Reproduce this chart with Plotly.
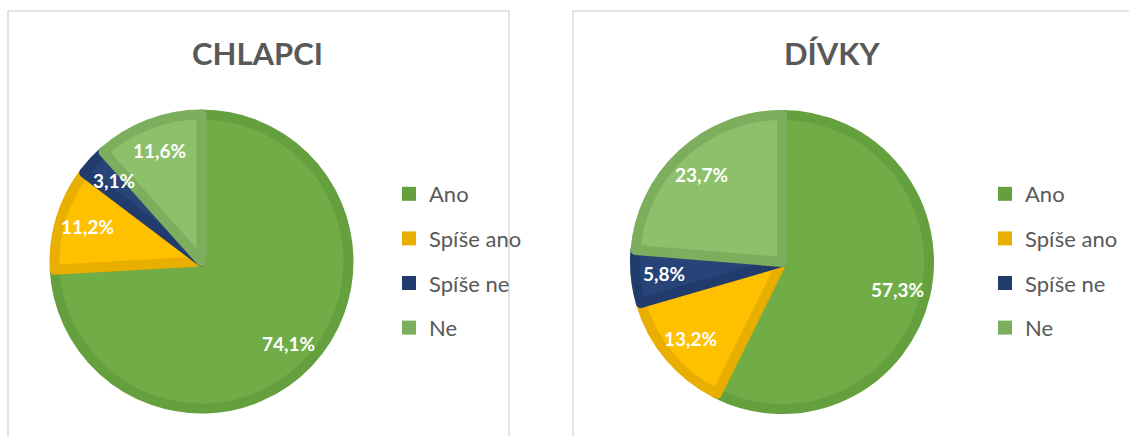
import math
import plotly.graph_objects as go

# ---- data ----
categories = ["Ano", "Spíše ano", "Spíše ne", "Ne"]
chlapci = [74.1, 11.2, 3.1, 11.6]
divky = [57.3, 13.2, 5.8, 23.7]
titles = ["CHLAPCI", "DÍVKY"]

# ---- styles ----
fill_colors = ["#70AD47", "#FFC000", "#264478", "#8DC06B"]
border_colors = ["#65A03F", "#E8AE00", "#213C6C", "#7DAE5E"]
TEXT_GREY = "#595959"
FONT = "Lato"

W, H = 1129, 436
line_w = 10
# pie boxes in pixels (fill radius = visual radius - line_w/2): (x_left, x_right, y_top, y_bottom)
pie_boxes = [(54.5, 348.5, 114.5, 408.5), (635, 929, 115, 409)]
title_x_px = [257, 832]
title_y_px = 53
legend_x_px = [389, 985]
legend_y_px = 173
label_frac = 0.81

fig = go.Figure()
annotations = []
series = [chlapci, divky]
legend_ids = ["legend", "legend2"]

for k, vals in enumerate(series):
    x0, x1, yt, yb = pie_boxes[k]
    fig.add_trace(go.Pie(
        labels=categories, values=vals, sort=False, direction="clockwise", rotation=0,
        textinfo="none", hoverinfo="label+percent", showlegend=False,
        marker=dict(colors=fill_colors, line=dict(color=border_colors, width=line_w)),
        domain=dict(x=[x0 / W, x1 / W], y=[1 - yb / H, 1 - yt / H]),
    ))
    # labels placed at the middle angle of each slice
    cx, cy = (x0 + x1) / 2, (yt + yb) / 2
    r = (x1 - x0) / 2 * label_frac
    total = sum(vals)
    cum = 0.0
    for v in vals:
        mid = (cum + v / 2) / total * 2 * math.pi
        cum += v
        px = cx + r * math.sin(mid)
        py = cy - r * math.cos(mid)
        annotations.append(dict(
            x=px / W, y=1 - py / H, xref="paper", yref="paper", showarrow=False,
            text=f"{v:.1f}".replace(".", ",") + "%",
            font=dict(family=FONT, size=19, color="white", weight="bold"),
            xanchor="center", yanchor="middle"))
    # title
    annotations.append(dict(
        x=title_x_px[k] / W, y=1 - title_y_px / H, xref="paper", yref="paper",
        showarrow=False, text=titles[k], xanchor="center", yanchor="middle",
        font=dict(family=FONT, size=31, color=TEXT_GREY, weight="bold")))
    # legend entries
    for i, cat in enumerate(categories):
        fig.add_trace(go.Scatter(
            x=[None], y=[None], mode="markers", name=cat,
            marker=dict(symbol="square", size=14, color=border_colors[i]),
            legend=legend_ids[k], legendgroup=f"g{k}_{i}", showlegend=True,
            hoverinfo="skip"))

legend_common = dict(
    xanchor="left", yanchor="top", font=dict(family=FONT, size=22, color=TEXT_GREY),
    traceorder="grouped", tracegroupgap=13, bgcolor="rgba(0,0,0,0)", borderwidth=0,
    itemclick=False, itemdoubleclick=False)

shapes = [
    dict(type="rect", xref="paper", yref="paper", x0=8 / W, x1=509 / W,
         y0=1 - 11 / H, y1=-0.1, line=dict(color="#D9D9D9", width=1.5)),
    dict(type="rect", xref="paper", yref="paper", x0=573 / W, x1=1.1,
         y0=1 - 11 / H, y1=-0.1, line=dict(color="#D9D9D9", width=1.5)),
]

fig.update_layout(
    width=W, height=H, margin=dict(l=0, r=0, t=0, b=0),
    paper_bgcolor="white", plot_bgcolor="white",
    xaxis=dict(visible=False), yaxis=dict(visible=False),
    showlegend=True,
    legend=dict(x=legend_x_px[0] / W, y=1 - legend_y_px / H, **legend_common),
    legend2=dict(x=legend_x_px[1] / W, y=1 - legend_y_px / H, **legend_common),
    annotations=annotations, shapes=shapes,
)

fig.write_html("out.html", config={"displayModeBar": False},
               post_script="document.body.style.margin='0';document.body.style.overflow='hidden';")
